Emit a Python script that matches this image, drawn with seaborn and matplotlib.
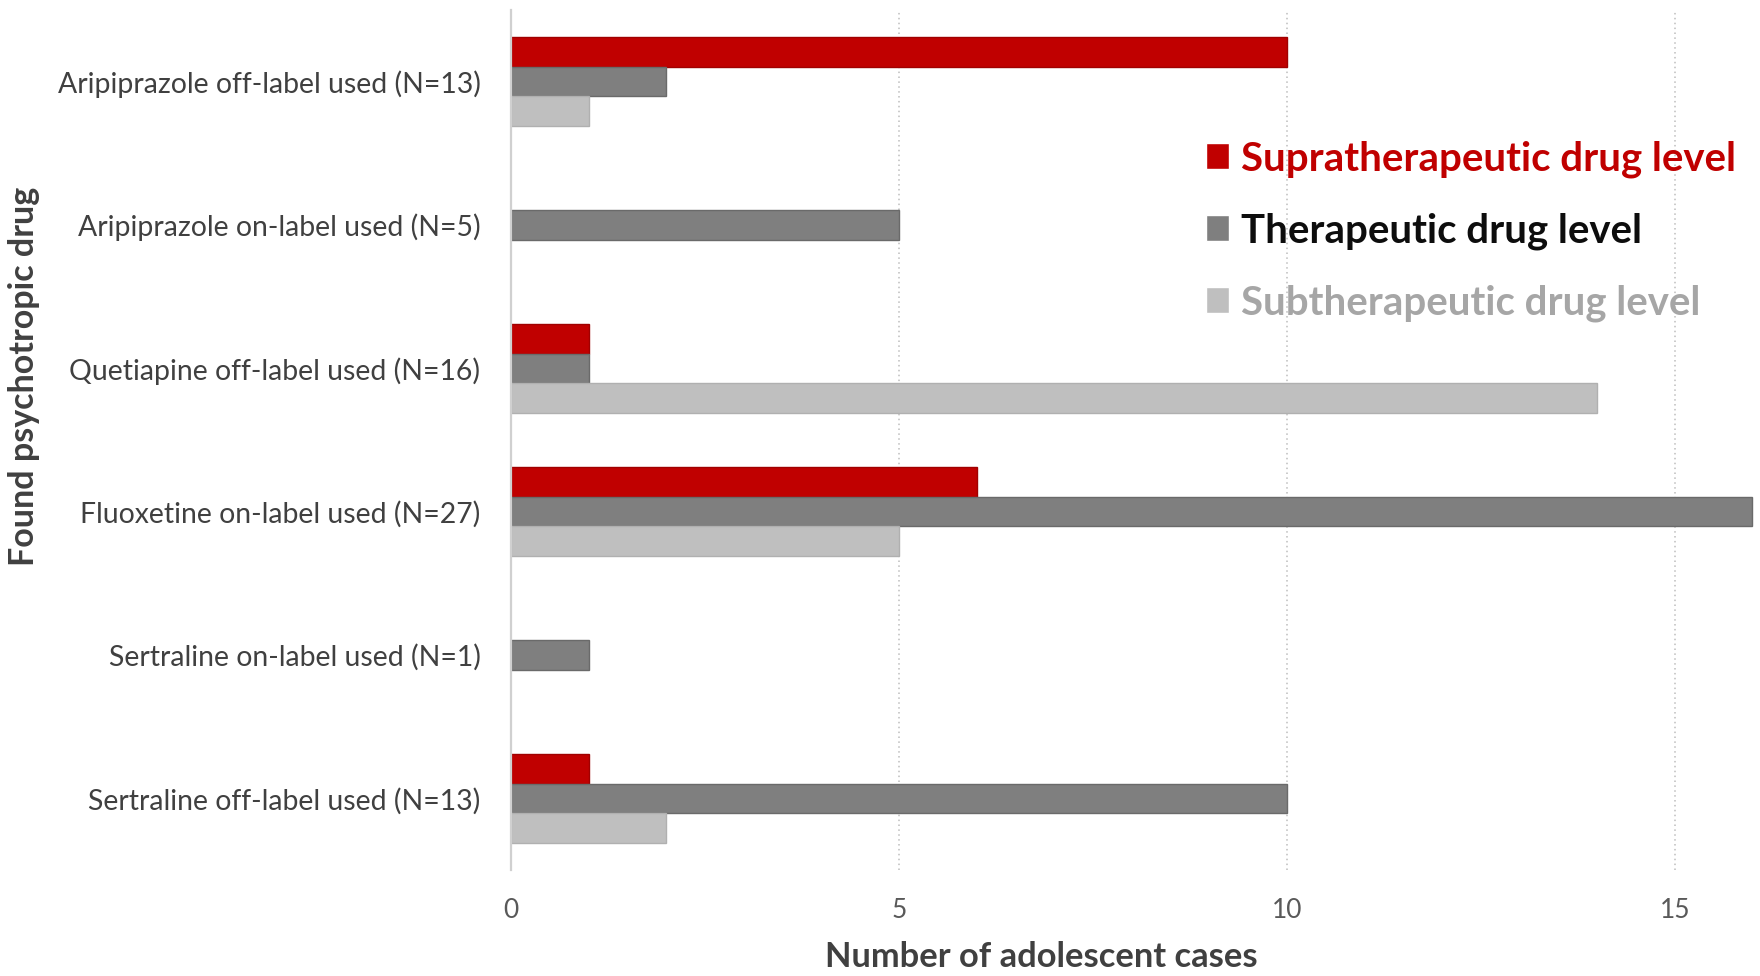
import matplotlib
matplotlib.use("Agg")
import matplotlib.pyplot as plt
import seaborn as sns
import pandas as pd

# ---- data ----
categories = [
    "Aripiprazole off-label used (N=13)",
    "Aripiprazole on-label used (N=5)",
    "Quetiapine off-label used (N=16)",
    "Fluoxetine on-label used (N=27)",
    "Sertraline on-label used (N=1)",
    "Sertraline off-label used (N=13)",
]
levels = ["Supratherapeutic drug level", "Therapeutic drug level", "Subtherapeutic drug level"]
supra = [10, 0, 1, 6, 0, 1]
thera = [2, 5, 1, 16, 1, 10]
sub = [1, 0, 14, 5, 0, 2]
x_ticks = [0, 5, 10, 15]

bar_colors = ["#C00000", "#7F7F7F", "#BFBFBF"]
edge_colors = ["#A00000", "#6A6A6A", "#B0B0B0"]
legend_text_colors = ["#C00000", "#0D0D0D", "#A6A6A6"]

rows = []
for lvl, vals in zip(levels, [supra, thera, sub]):
    for c, v in zip(categories, vals):
        rows.append({"drug": c, "level": lvl, "cases": v})
df = pd.DataFrame(rows)

sns.set_style("white")
plt.rcParams["font.family"] = ["Lato", "DejaVu Sans"]

W, H = 1760, 976
fig = plt.figure(figsize=(W / 100, H / 100), dpi=100)
ax = fig.add_axes([511 / W, 1 - 870 / H, (1754 - 511) / W, (870 - 10) / H])

sns.barplot(
    data=df, y="drug", x="cases", hue="level", order=categories, hue_order=levels,
    palette=dict(zip(levels, bar_colors)), orient="h", width=0.62, gap=0,
    saturation=1, ax=ax, legend=True,
)

# thin darker outline on bars (none on empty bars)
for cont, ec in zip(ax.containers, edge_colors):
    for p in cont:
        p.set_edgecolor(ec)
        p.set_linewidth(1.0 if p.get_width() > 0 else 0)

ax.set_xlim(0, 16.02)
ax.set_ylim(5.5, -0.5)
ax.set_xticks(x_ticks)
ax.set_xticklabels([str(t) for t in x_ticks])

ax.set_axisbelow(True)
ax.grid(axis="x", linestyle=(0, (1, 2.2)), color="#BDBDBD", linewidth=1.1)
ax.grid(axis="y", visible=False)
for s in ["top", "right", "bottom"]:
    ax.spines[s].set_visible(False)
ax.spines["left"].set_color("#D0D0D0")
ax.spines["left"].set_linewidth(1.6)

ax.tick_params(axis="x", length=0, pad=20, labelsize=19, labelcolor="#595959")
ax.tick_params(axis="y", length=0, pad=22, labelsize=20.4, labelcolor="#404040")

ax.set_xlabel("Number of adolescent cases", fontsize=24.8, fontweight="bold", color="#404040")
ax.set_ylabel("Found psychotropic drug", fontsize=24.5, fontweight="bold", color="#404040")
ax.xaxis.set_label_coords(0.427, -0.083)
ax.yaxis.set_label_coords(-0.379, 0.574)

handles, labels = ax.get_legend_handles_labels()
leg = ax.legend(
    handles, labels, loc="upper left", bbox_to_anchor=(1206 / W, 1 - 140 / H),
    bbox_transform=fig.transFigure, frameon=False, borderpad=0, borderaxespad=0,
    handlelength=0.575, handleheight=0.6, handletextpad=0.3, labelspacing=0.86,
    prop={"size": 28.9, "weight": "bold"},
)
for t, c in zip(leg.get_texts(), legend_text_colors):
    t.set_color(c)

fig.savefig("out.png", dpi=100)
